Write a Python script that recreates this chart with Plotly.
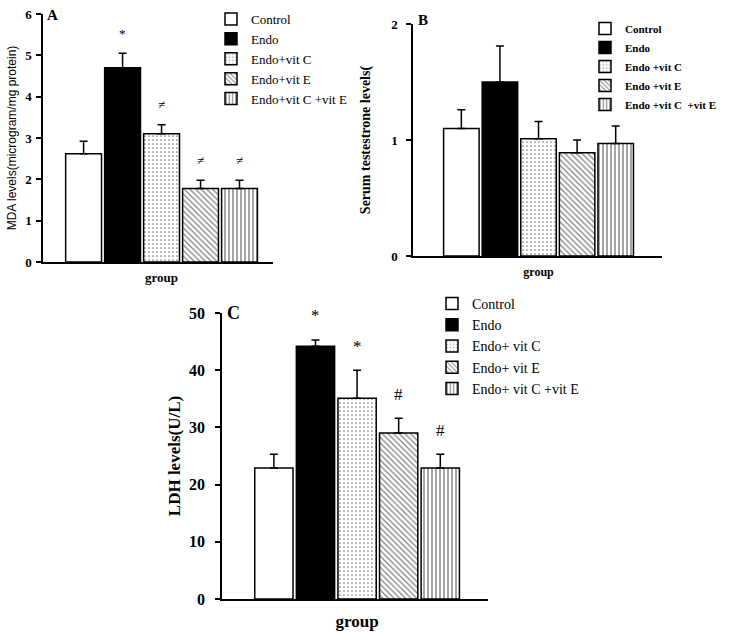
import plotly.graph_objects as go

# ---------------- data ----------------
groups = ["Control", "Endo", "Endo+vit C", "Endo+vit E", "Endo+vit C +vit E"]
legend_b = ["Control", "Endo", "Endo +vit C", "Endo +vit E", "Endo +vit C  +vit E"]
legend_c = ["Control", "Endo", "Endo+ vit C", "Endo+ vit E", "Endo+ vit C +vit E"]
x_label = "group"

mda = [2.62, 4.70, 3.10, 1.78, 1.78]
mda_err = [0.30, 0.35, 0.22, 0.20, 0.20]
mda_sig = ["", "*", "≠", "≠", "≠"]

testo = [1.10, 1.50, 1.01, 0.89, 0.97]
testo_err = [0.16, 0.31, 0.15, 0.11, 0.15]

ldh = [22.9, 44.2, 35.1, 29.0, 22.9]
ldh_err = [2.4, 1.1, 4.9, 2.6, 2.4]
ldh_sig = ["", "*", "*", "#", "#"]

# ---------------- styles ----------------
W, H = 733, 633
BARGAP = 0.15
SERIF = "Liberation Serif, Times New Roman, serif"
SANS = "Liberation Sans, Arial, sans-serif"

fills = [
    dict(color="white"),
    dict(color="black"),
    dict(color="white", pattern=dict(shape=".", fgcolor="black", bgcolor="white", size=4, solidity=0.15)),
    dict(color="white", pattern=dict(shape="\\", fgcolor="black", bgcolor="white", size=4, solidity=0.3)),
    dict(color="white", pattern=dict(shape="|", fgcolor="black", bgcolor="white", size=4, solidity=0.35)),
]


def px_x(a, b):
    return [a / W, b / W]


def px_y(bottom, top):
    return [1 - bottom / H, 1 - top / H]


fig = go.Figure()

panels = [
    dict(vals=mda, errs=mda_err, names=groups, xa="x", ya="y", leg="legend"),
    dict(vals=testo, errs=testo_err, names=legend_b, xa="x2", ya="y2", leg="legend2"),
    dict(vals=ldh, errs=ldh_err, names=legend_c, xa="x3", ya="y3", leg="legend3"),
]

for p in panels:
    for i, (v, e, nm) in enumerate(zip(p["vals"], p["errs"], p["names"])):
        m = dict(fills[i])
        m["line"] = dict(color="black", width=1.5)
        fig.add_trace(go.Bar(
            x=[x_label], y=[v], name=nm, marker=m,
            error_y=dict(type="data", array=[e], arrayminus=[0], symmetric=False,
                         color="black", thickness=1.5, width=4),
            xaxis=p["xa"], yaxis=p["ya"], legend=p["leg"],
        ))


# significance marks above error bars
def add_sig(vals, errs, sigs, xref, yref, size, shift):
    for i, (v, e, s) in enumerate(zip(vals, errs, sigs)):
        if not s:
            continue
        fig.add_annotation(
            x=(i - 2) * (1 - BARGAP) / 5, y=v + e, xref=xref, yref=yref,
            text=s, showarrow=False, yshift=shift, yanchor="middle",
            font=dict(family=SERIF, size=size, color="black"),
        )


add_sig(mda, mda_err, mda_sig, "x", "y", 13, 20)
add_sig(ldh, ldh_err, ldh_sig, "x3", "y3", 17, 24)

# panel letters
for txt, xp, yp, sz in [("A", 52, 15, 15), ("B", 423, 20, 15), ("C", 234, 313, 18)]:
    fig.add_annotation(x=xp / W, y=1 - yp / H, xref="paper", yref="paper", text="<b>%s</b>" % txt,
                       showarrow=False, xanchor="center", yanchor="middle",
                       font=dict(family=SERIF, size=sz, color="black"))

axis_common = dict(showline=True, linecolor="black", linewidth=1.5, showgrid=False,
                   zeroline=False, mirror=False, automargin=False)

fig.update_layout(
    width=W, height=H, autosize=False,
    margin=dict(l=0, r=0, t=0, b=0, autoexpand=False),
    paper_bgcolor="white", plot_bgcolor="white",
    barmode="group", bargap=BARGAP, bargroupgap=0.08,
    showlegend=True,
    # Panel A
    xaxis=dict(domain=px_x(43, 273), anchor="y", range=[-0.517, 0.486], ticks="",
               tickfont=dict(family=SERIF, size=13, color="black", weight="bold"),
               ticklabelstandoff=3, **axis_common),
    yaxis=dict(domain=px_y(262, 14), anchor="x", range=[0, 6], dtick=1, ticks="outside",
               ticklen=5, tickwidth=1.5, tickcolor="black", ticklabelstandoff=2,
               tickfont=dict(family=SERIF, size=13, color="black", weight="bold"),
               title=dict(text="MDA levels(microgram/mg protein)", standoff=6,
                          font=dict(family=SANS, size=12, color="black")),
               **axis_common),
    # Panel B
    xaxis2=dict(domain=px_x(413, 662), anchor="y2", range=[-0.553, 0.544], ticks="",
                tickfont=dict(family=SERIF, size=12, color="black", weight="bold"),
                ticklabelstandoff=4, **axis_common),
    yaxis2=dict(domain=px_y(256, 24), anchor="x2", range=[0, 2], dtick=1, ticks="outside",
                ticklen=5, tickwidth=1.5, tickcolor="black", ticklabelstandoff=6,
                tickfont=dict(family=SERIF, size=13, color="black", weight="bold"),
                title=dict(text="Serum testestrone levels(", standoff=17,
                           font=dict(family=SERIF, size=14, color="black", weight="bold")),
                **axis_common),
    # Panel C
    xaxis3=dict(domain=px_x(222, 488), anchor="y3", range=[-0.552, 0.535], ticks="",
                tickfont=dict(family=SERIF, size=17, color="black", weight="bold"),
                ticklabelstandoff=6, **axis_common),
    yaxis3=dict(domain=px_y(599, 313), anchor="x3", range=[0, 50], dtick=10, ticks="outside",
                ticklen=5, tickwidth=1.5, tickcolor="black", ticklabelstandoff=7,
                tickfont=dict(family=SERIF, size=16, color="black", weight="bold"),
                title=dict(text="LDH levels(U/L)", standoff=4,
                           font=dict(family=SERIF, size=17, color="black", weight="bold")),
                **axis_common),
    legend=dict(x=211 / W, y=1 - 4 / H, xanchor="left", yanchor="top", traceorder="normal",
                bgcolor="rgba(0,0,0,0)", tracegroupgap=0, itemwidth=30,
                font=dict(family=SERIF, size=13, color="black")),
    legend2=dict(x=585 / W, y=1 - 14 / H, xanchor="left", yanchor="top", traceorder="normal",
                 bgcolor="rgba(0,0,0,0)", tracegroupgap=0, itemwidth=30,
                 font=dict(family=SERIF, size=11, color="black", weight="bold")),
    legend3=dict(x=432 / W, y=1 - 288 / H, xanchor="left", yanchor="top", traceorder="normal",
                 bgcolor="rgba(0,0,0,0)", tracegroupgap=0, itemwidth=30,
                 font=dict(family=SERIF, size=14, color="black")),
)

fig.write_html("out.html", config={"displayModeBar": False},
               post_script="document.body.style.margin='0';document.body.style.padding='0';")
